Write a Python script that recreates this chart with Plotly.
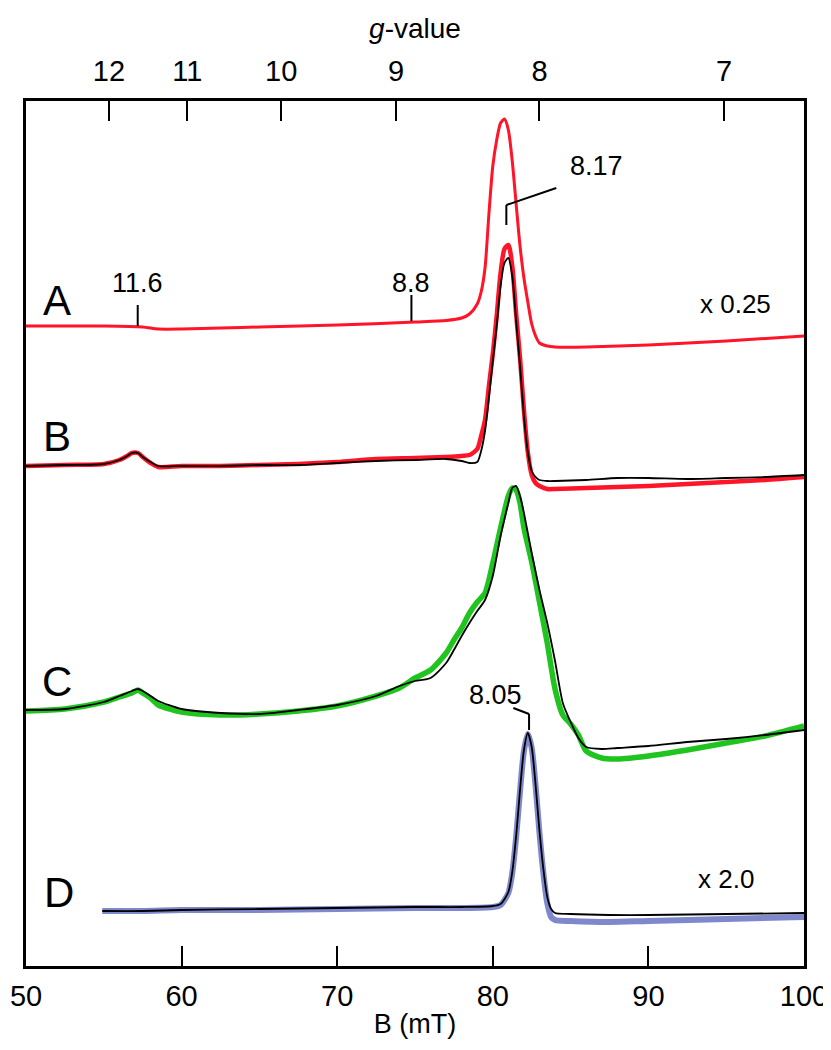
import plotly.graph_objects as go

FONT = "Liberation Sans, Arial, sans-serif"
G_CONV = 664.0  # g * B(mT) at the spectrometer frequency

# ---------------- data (B in mT, signal in arbitrary units) ----------------
A_B = [50, 52.5, 55, 57.5, 58.5, 60, 62.5, 65, 70, 75, 77, 78, 78.5, 79, 79.25, 79.5, 79.75, 80,
       80.25, 80.5, 80.75, 81, 81.25, 81.5, 81.75, 82, 82.25, 82.5, 82.75, 83, 83.5, 84, 86, 90, 95, 100]
A_sig = [0, 0, 0, -1, -3, -3, -2, -1, 1, 4, 5.5, 8, 12, 22, 34, 58, 112, 160,
         186, 203, 207, 196, 165, 122, 80, 48, 24, 2, -10, -17, -20, -21, -21, -19, -15, -10]

B_B = [50, 52.5, 55, 56, 56.5, 56.8, 57.2, 57.5, 58, 58.5, 60, 62.5, 65, 67.5, 70, 72.5, 75, 77, 78, 78.5,
       79, 79.25, 79.5, 79.75, 80, 80.25, 80.5, 80.75, 81, 81.25, 81.5, 81.75, 82, 82.25, 82.5, 82.75, 83,
       83.5, 84, 86, 88, 90, 92.5, 95, 97.5, 100]
B_exp = [0, 1, 2, 6, 10, 13, 13, 9, 3, -1, 0, 0, 1, 2, 4, 7, 8, 9, 10, 11,
         17, 30, 46, 80, 112, 150, 193, 217, 221, 200, 152, 108, 56, 14, -9, -17, -20,
         -23, -23, -22, -21, -20, -18, -16, -14, -11]
B_fit = [0, 1, 2, 6, 10, 13, 13, 9, 4, 0, 0, 0, 1, 1, 3, 5, 6, 7, 5, 3,
         4, 15, 35, 68, 105, 140, 180, 203, 208, 190, 145, 100, 50, 14, -5, -11, -14,
         -15, -15, -14, -12, -12, -13, -12, -11, -9]

C_B = [50, 52.5, 55, 56, 56.8, 57.2, 57.5, 58, 58.5, 60, 62.5, 65, 67.5, 70, 72.5, 74, 75, 76, 77, 77.5,
       78, 78.5, 79, 79.5, 80, 80.5, 81, 81.25, 81.5, 81.75, 82, 82.5, 83, 83.5, 84, 84.5, 85, 85.5, 86, 87,
       88, 90, 92.5, 95, 97.5, 100]
C_exp = [-3, -1, 6, 11, 15, 18, 15, 10, 3, -4, -7, -6, -3, 2, 12, 20, 30, 38, 55, 68,
         80, 95, 106, 115, 145, 180, 212, 220, 218, 205, 180, 146, 106, 65, 19, -7, -16, -27, -43, -50,
         -51, -48, -42, -35, -28, -18]
C_fit = [-2, -1, 6, 12, 17, 19, 17, 12, 7, -1, -5, -6, -2, 3, 12, 22, 27, 30, 45, 58,
         72, 85, 97, 108, 132, 172, 205, 220, 222, 212, 195, 155, 118, 85, 47, 5, -14, -30, -39, -41,
         -40, -38, -34, -31, -27, -22]

D_B = [54.9, 57.5, 60, 65, 70, 75, 78, 80, 80.5, 81, 81.25, 81.5, 81.75, 82, 82.25, 82.5, 82.75, 83,
       83.25, 83.5, 83.75, 84, 85, 87.5, 90, 95, 100]
D_exp = [0, 0, 1, 1, 2, 3, 3, 4, 6, 18, 38, 74, 120, 160, 177, 163, 125, 78,
         38, 8, -6, -9, -10, -11, -10, -8, -6]
D_fit = [0, 0, 1, 2, 3, 4, 4, 5, 7, 19, 39, 75, 121, 161, 178, 164, 126, 80,
         42, 14, 2, -2, -3, -4, -4, -3, -2]

offsets = {"A": 640, "B": 500, "C": 258, "D": 55}

x_ticks = [50, 60, 70, 80, 90, 100]
g_ticks = [12, 11, 10, 9, 8, 7]

# trace labels
letters = ["A", "B", "C", "D"]
letter_x = [52.0, 52.0, 52.0, 52.1]
letter_y = [666, 530, 285, 74]

scale_text = ["x 0.25", "x 2.0"]
scale_x = [95.6, 95.0]
scale_y = [662, 87]

# g-value markers: label, label position, tick line
mk_text = ["11.6", "8.8"]
mk_B = [57.18, 74.77]
mk_label_y = [683, 683]
mk_y0 = [640, 645]
mk_y1 = [661, 671]

# leader-style markers
ld_text = ["8.17", "8.05"]
ld_label_x = [86.64, 80.17]
ld_label_y = [800, 271]
ld_B = [80.87, 82.33]
ld_y0 = [741, 236]
ld_y1 = [761, 252]
ld_end_x = [84.08, 81.32]
ld_end_y = [778, 258]

RED = "#ff1428"
GREEN = "#1fc41f"
BLUE = "#7f88cc"

fig = go.Figure()


def add(xs, sig, off, color, width):
    fig.add_trace(go.Scatter(x=xs, y=[s + off for s in sig], mode="lines",
                             line=dict(color=color, width=width, shape="spline", smoothing=0.7),
                             hoverinfo="skip"))


add(A_B, A_sig, offsets["A"], RED, 3)
add(B_B, B_exp, offsets["B"], RED, 4.5)
add(B_B, B_fit, offsets["B"], "black", 1.8)
add(C_B, C_exp, offsets["C"], GREEN, 5.5)
add(C_B, C_fit, offsets["C"], "black", 1.8)
add(D_B, D_exp, offsets["D"], BLUE, 6)
add(D_B, D_fit, offsets["D"], "black", 1.8)

# invisible trace to attach the top g-value axis
fig.add_trace(go.Scatter(x=[50, 100], y=[None, None], xaxis="x2", mode="lines", hoverinfo="skip",
                         showlegend=False))

ann = []
for t, x, y in zip(letters, letter_x, letter_y):
    ann.append(dict(x=x, y=y, text=t, showarrow=False, xanchor="center", yanchor="middle",
                    font=dict(size=42, family=FONT, color="black")))
for t, x, y in zip(scale_text, scale_x, scale_y):
    ann.append(dict(x=x, y=y, text=t, showarrow=False, xanchor="center", yanchor="middle",
                    font=dict(size=26, family=FONT, color="black")))
for t, x, y in zip(mk_text, mk_B, mk_label_y):
    ann.append(dict(x=x, y=y, text=t, showarrow=False, xanchor="center", yanchor="middle",
                    font=dict(size=27, family=FONT, color="black")))
for t, x, y in zip(ld_text, ld_label_x, ld_label_y):
    ann.append(dict(x=x, y=y, text=t, showarrow=False, xanchor="center", yanchor="middle",
                    font=dict(size=27, family=FONT, color="black")))

shapes = []
for x, y0, y1 in zip(mk_B, mk_y0, mk_y1):
    shapes.append(dict(type="line", x0=x, x1=x, y0=y0, y1=y1, xref="x", yref="y",
                       line=dict(color="black", width=2)))
for x, y0, y1, xe, ye in zip(ld_B, ld_y0, ld_y1, ld_end_x, ld_end_y):
    shapes.append(dict(type="line", x0=x, x1=x, y0=y0, y1=y1, xref="x", yref="y",
                       line=dict(color="black", width=2)))
    shapes.append(dict(type="line", x0=x, x1=xe, y0=y1, y1=ye, xref="x", yref="y",
                       line=dict(color="black", width=2)))

fig.update_layout(
    width=831, height=1050,
    margin=dict(l=18, r=35, t=93, b=92, autoexpand=False),
    plot_bgcolor="white", paper_bgcolor="white",
    showlegend=False,
    font=dict(family=FONT, color="black"),
    annotations=ann, shapes=shapes,
    xaxis=dict(range=[50, 100], tickvals=x_ticks, ticks="inside", ticklen=20, tickwidth=2,
               tickcolor="black", showline=True, linewidth=2.5, linecolor="black",
               showgrid=False, zeroline=False, tickfont=dict(size=29, family=FONT),
               ticklabelstandoff=2, automargin=False,
               title=dict(text="B (mT)", font=dict(size=27, family=FONT), standoff=4)),
    xaxis2=dict(range=[50, 100], overlaying="x", side="top", anchor="y",
                tickvals=[G_CONV / g for g in g_ticks], ticktext=[str(g) for g in g_ticks],
                ticks="inside", ticklen=20, tickwidth=2, tickcolor="black", automargin=False,
                showline=True, linewidth=2.5, linecolor="black", showgrid=False, zeroline=False,
                tickfont=dict(size=29, family=FONT), ticklabelstandoff=6,
                title=dict(text="<i>g</i>-value", font=dict(size=28, family=FONT), standoff=8)),
    yaxis=dict(range=[0, 865], showline=True, mirror=True, linewidth=2.5, linecolor="black",
               showticklabels=False, ticks="", showgrid=False, zeroline=False, automargin=False),
)

fig.write_html("out.html")
